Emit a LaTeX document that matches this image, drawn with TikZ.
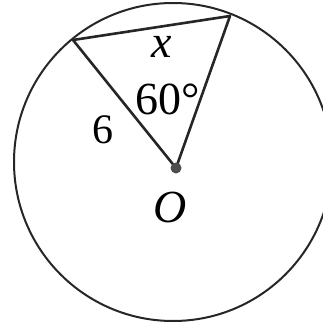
\documentclass[tikz,border=0pt]{standalone}
\usepackage{fontspec}
\setmainfont{Liberation Serif}
\begin{document}
\begin{tikzpicture}[x=1pt,y=-1pt,
  seg/.style={line width=2.6pt,draw=black!85},
  lbl/.style={inner sep=0pt,font=\fontsize{46}{48}\selectfont}]
\useasboundingbox (0,0) rectangle (323,327);
\clip (0,0) rectangle (323,327);
\coordinate (C) at (173,162);
\draw[line width=2pt,black!85] (C) circle[radius=159];
\coordinate (O) at (176,168);
\coordinate (A) at (73,40);
\coordinate (B) at (230,16);
\draw[seg,line join=round] (A) -- (B) -- (O) -- cycle;
\fill[black!70] (O) circle[radius=5.5];
\node[lbl] (lx) at (162,47) {\textit{x}};
\node[lbl] (l60) at (168,99) {60°};
\node[lbl,font=\fontsize{42}{44}\selectfont] (l6) at (103,130) {6};
\node[lbl] (lO) at (170,207) {\textit{O}};
\end{tikzpicture}
\end{document}
